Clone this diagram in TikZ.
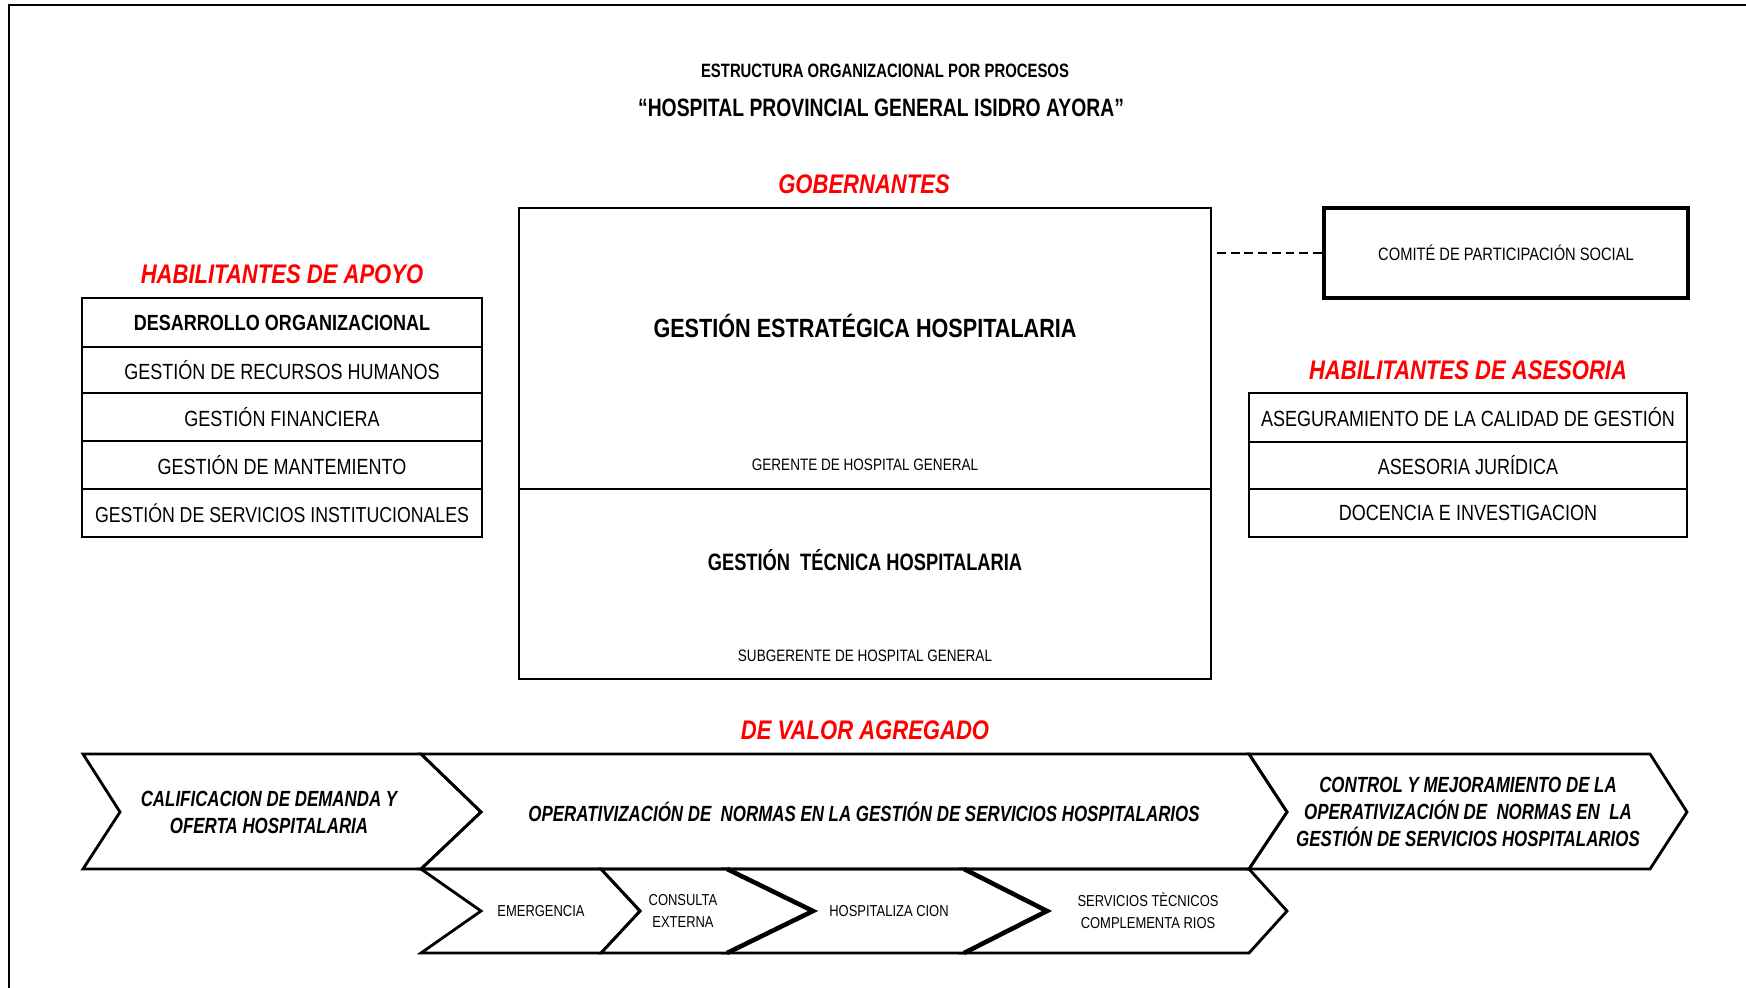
\documentclass[tikz,border=0pt]{standalone}
\usepackage{fontspec}
\setmainfont{Liberation Sans}
\newfontfamily\narrow[FakeStretch=0.82]{Liberation Sans}
\newfontfamily\condensedfont[FakeStretch=0.77]{Liberation Sans}
\usepackage{xcolor}
\definecolor{titlered}{RGB}{255,0,0}

\tikzset{
  redtitle/.style={text=titlered, font=\narrow\bfseries\itshape\fontsize{15.3}{18}\selectfont},
  rowtext/.style={font=\narrow\fontsize{12.5}{15}\selectfont},
  bigbold/.style={font=\narrow\bfseries\fontsize{15}{18}\selectfont},
  smalltext/.style={font=\narrow\fontsize{9.4}{11}\selectfont},
  chevbold/.style={font=\condensedfont\bfseries\itshape\fontsize{12.5}{15.4}\selectfont, align=center},
  chevsmall/.style={font=\narrow\fontsize{9}{12.5}\selectfont, align=center},
  chev/.style={line width=1.6pt, line join=miter},
  thickchev/.style={line width=2.6pt, line join=miter},
}

\begin{document}
\begin{tikzpicture}[x=0.02cm, y=-0.02cm]
        \useasboundingbox (0,0) rectangle (1746,987);
        \draw[line width=1.7pt] (9,1000) -- (9,5) -- (1760,5); %frame

        \node[font=\condensedfont\bfseries\fontsize{11}{13}\selectfont] (titulo) at (885,71) {ESTRUCTURA ORGANIZACIONAL POR PROCESOS};
        \node[font=\condensedfont\bfseries\fontsize{14.3}{17}\selectfont] (hospital) at (881,108) {“HOSPITAL PROVINCIAL GENERAL ISIDRO AYORA”};

        % gobernantes
        \node[redtitle] (gobernantes) at (864,184) {GOBERNANTES};
        \node[draw, line width=1.25pt, minimum width=13.84cm, minimum height=5.62cm] (gobierno) at (865,348.5) {};
        \node[draw, line width=1.25pt, minimum width=13.84cm, minimum height=3.8cm] (tecnica) at (865,584) {};
        \node[bigbold] (estrategica) at (865,326) {GESTIÓN ESTRATÉGICA HOSPITALARIA};
        \node[smalltext] (gerente) at (865,465) {GERENTE DE HOSPITAL GENERAL};
        \node[font=\condensedfont\bfseries\fontsize{13.5}{16}\selectfont] (tecnicatxt) at (865,560) {GESTIÓN\ \ TÉCNICA HOSPITALARIA};
        \node[smalltext] (subgerente) at (865,656) {SUBGERENTE DE HOSPITAL GENERAL};

        \node[draw, line width=2pt, minimum width=7.28cm, minimum height=1.8cm, font=\narrow\fontsize{10.2}{12}\selectfont] (comite) at (1506,253) {COMITÉ DE PARTICIPACIÓN SOCIAL};
        \draw[line width=1.1pt, dash pattern=on 5pt off 2.8pt, shorten <=0.1cm] (gobierno.east |- comite.west) -- (comite.west);

        % habilitantes de apoyo
        \node[redtitle] (apoyo) at (282,274) {HABILITANTES DE APOYO};
        \draw[line width=1.1pt] (82,298) rectangle (482,347) node[pos=.5, rowtext, font=\narrow\bfseries\fontsize{12.5}{15}\selectfont] (desarrollo) {DESARROLLO ORGANIZACIONAL};
        \draw[line width=1.1pt] (82,347) rectangle (482,393) node[pos=.5, rowtext] (rrhh) {GESTIÓN DE RECURSOS HUMANOS};
        \draw[line width=1.1pt] (82,393) rectangle (482,441) node[pos=.5, rowtext] (financiera) {GESTIÓN FINANCIERA};
        \draw[line width=1.1pt] (82,441) rectangle (482,489) node[pos=.5, rowtext] (mantenimiento) {GESTIÓN DE MANTEMIENTO};
        \draw[line width=1.1pt] (82,489) rectangle (482,537) node[pos=.5, rowtext, font=\narrow\fontsize{12.3}{15}\selectfont] (institucionales) {GESTIÓN DE SERVICIOS INSTITUCIONALES};
        \draw[line width=1.6pt] (82,298) rectangle (482,537);

        % habilitantes de asesoria
        \node[redtitle] (asesoria) at (1468,370) {HABILITANTES DE ASESORIA};
        \draw[line width=0.9pt] (1249,393) rectangle (1687,442) node[pos=.5, rowtext] (calidad) {ASEGURAMIENTO DE LA CALIDAD DE GESTIÓN};
        \draw[line width=0.9pt] (1249,442) rectangle (1687,489) node[pos=.5, rowtext] (juridica) {ASESORIA JURÍDICA};
        \draw[line width=0.9pt] (1249,489) rectangle (1687,537) node[pos=.5, rowtext] (docencia) {DOCENCIA E INVESTIGACION};
        \draw[line width=1.5pt] (1249,393) rectangle (1687,537);

        % de valor agregado
        \node[redtitle] (valor) at (865,730) {DE VALOR AGREGADO};
        \draw[chev] (83,754) -- (421,754) -- (481,812) -- (421,869) -- (83,869) -- (120,812) -- cycle; %calificacion
        \draw[chev] (421,754) -- (1249,754) -- (1287,812) -- (1249,869) -- (421,869) -- (481,812) -- cycle; %operativizacion
        \draw[chev] (1249,754) -- (1650,754) -- (1687,812) -- (1650,869) -- (1249,869) -- (1287,812) -- cycle; %control
        \node[chevbold] (calificacion) at (269,812) {CALIFICACION DE DEMANDA Y\\OFERTA HOSPITALARIA};
        \node[chevbold] (operativizacion) at (864,812) {OPERATIVIZACIÓN DE\ \ NORMAS EN LA GESTIÓN DE SERVICIOS HOSPITALARIOS};
        \node[chevbold] (control) at (1468,812) {CONTROL Y MEJORAMIENTO DE LA\\OPERATIVIZACIÓN DE\ \ NORMAS EN\ \ LA\\GESTIÓN DE SERVICIOS HOSPITALARIOS};

        \draw[chev] (421,869) -- (601,869) -- (640,911) -- (601,953) -- (421,953) -- (481,911) -- cycle; %emergencia
        \draw[chev] (601,869) -- (727,869) -- (813,911) -- (727,953) -- (601,953) -- (640,911) -- cycle; %consulta
        \draw[chev] (727,869) -- (964,869) -- (1047,911) -- (964,953) -- (727,953) -- (813,911) -- cycle; %hospitalizacion
        \draw[chev] (964,869) -- (1249,869) -- (1287,911) -- (1249,953) -- (964,953) -- (1047,911) -- cycle; %servicios
        \draw[thickchev] (727,869) -- (813,911) -- (727,953);
        \draw[thickchev] (964,869) -- (1047,911) -- (964,953);
        \node[chevsmall] (emergencia) at (541,911) {EMERGENCIA};
        \node[chevsmall] (consulta) at (683,911) {CONSULTA\\EXTERNA};
        \node[chevsmall] (hospitalizacion) at (889,911) {HOSPITALIZA CION};
        \node[chevsmall] (servicios) at (1148,911) {SERVICIOS TÈCNICOS\\COMPLEMENTA RIOS};
    \end{tikzpicture}
\end{document}
